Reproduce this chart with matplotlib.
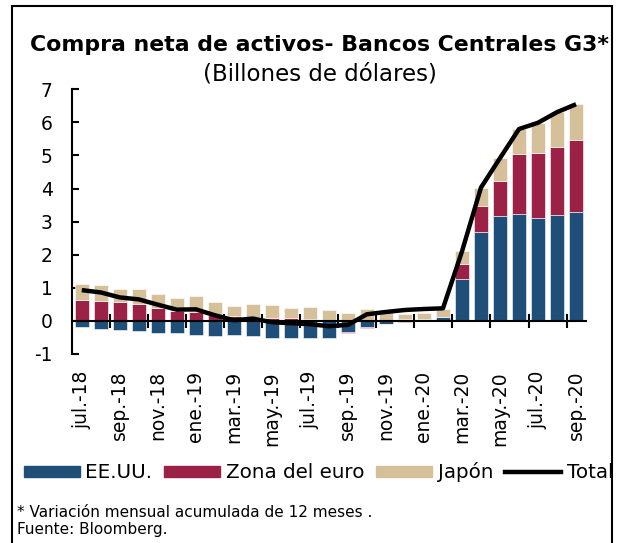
import numpy as np
import matplotlib
matplotlib.use("Agg")
import matplotlib.pyplot as plt
from matplotlib.patches import Patch, Rectangle
from matplotlib.lines import Line2D

plt.rcParams["axes.unicode_minus"] = False

# monthly data, jul-18 .. sep-20 (billones de dolares, 12m acumulado)
months = ["jul.-18", "ago.-18", "sep.-18", "oct.-18", "nov.-18", "dic.-18",
          "ene.-19", "feb.-19", "mar.-19", "abr.-19", "may.-19", "jun.-19",
          "jul.-19", "ago.-19", "sep.-19", "oct.-19", "nov.-19", "dic.-19",
          "ene.-20", "feb.-20", "mar.-20", "abr.-20", "may.-20", "jun.-20",
          "jul.-20", "ago.-20", "sep.-20"]
eeuu = [-0.19, -0.25, -0.27, -0.32, -0.37, -0.36, -0.42, -0.45, -0.44, -0.47,
        -0.53, -0.51, -0.53, -0.53, -0.33, -0.18, -0.08, 0.05, 0.07, 0.12,
        1.27, 2.69, 3.17, 3.23, 3.12, 3.20, 3.29]
zona_euro = [0.64, 0.60, 0.56, 0.52, 0.39, 0.29, 0.28, 0.18, 0.16, 0.13,
             0.09, 0.08, 0.05, 0.01, -0.05, -0.02, -0.01, -0.02, -0.01, 0.00,
             0.44, 0.77, 1.05, 1.81, 1.95, 2.06, 2.17]
japon = [0.47, 0.49, 0.39, 0.43, 0.42, 0.40, 0.47, 0.39, 0.29, 0.39,
         0.38, 0.31, 0.36, 0.33, 0.24, 0.35, 0.32, 0.17, 0.18, 0.25,
         0.39, 0.57, 0.70, 0.76, 0.92, 1.05, 1.09]
total = [0.93, 0.86, 0.71, 0.65, 0.49, 0.34, 0.35, 0.17, 0.02, 0.07,
         -0.04, -0.07, -0.10, -0.16, -0.12, 0.20, 0.27, 0.33, 0.36, 0.38,
         2.10, 4.03, 4.92, 5.80, 5.99, 6.31, 6.55]

c_us = "#1f4e79"
c_eu = "#9b2246"
c_jp = "#d5c09a"


def stack_bottoms(series):
    # positive values pile up from 0, negative ones pile down from 0
    pos = np.zeros(len(series[0]))
    neg = np.zeros(len(series[0]))
    out = []
    for s in series:
        s = np.asarray(s)
        b = np.where(s >= 0, pos, neg)
        out.append(b)
        pos = pos + np.where(s >= 0, s, 0)
        neg = neg + np.where(s < 0, s, 0)
    return out


def main():
    fig = plt.figure(figsize=(6.2, 5.43), dpi=100)
    ax = fig.add_axes([0.1166, 0.3481, 0.8278, 0.4874])

    x = np.arange(len(months))
    series = [eeuu, zona_euro, japon]
    colors = [c_us, c_eu, c_jp]
    bottoms = stack_bottoms(series)
    for s, b, c in zip(series, bottoms, colors):
        ax.bar(x, s, bottom=b, width=0.76, color=c, edgecolor="white",
               linewidth=0.4, zorder=2)
    ax.plot(x, total, color="black", lw=3.2, zorder=4, solid_capstyle="butt")

    ax.set_xlim(-0.5, len(months) - 0.5)
    ax.set_ylim(-1, 7)
    ax.set_yticks(range(-1, 8))

    for s in ["top", "right"]:
        ax.spines[s].set_visible(False)
    ax.spines["left"].set_linewidth(1.5)
    ax.spines["bottom"].set_position(("data", 0))
    ax.spines["bottom"].set_linewidth(1.5)
    ax.spines["bottom"].set_zorder(3)

    ax.set_xticks(x[::2])
    ax.set_xticklabels(months[::2], rotation=90, va="top", ha="center")
    ax.set_xticks(x[1:-1:2] + 0.5, minor=True)
    ax.tick_params(axis="x", which="major", length=0, pad=36, labelsize=13.5)
    ax.tick_params(axis="x", which="minor", direction="inout", length=10,
                   width=1.5)
    ax.tick_params(axis="y", direction="in", length=5, width=1.5,
                   labelsize=13.5, pad=14)

    fig.text(0.516, 0.917, "Compra neta de activos- Bancos Centrales G3*",
             ha="center", va="center", fontsize=15.8, fontweight="bold")
    fig.text(0.516, 0.864, "(Billones de dólares)", ha="center", va="center",
             fontsize=16.5)

    handles = [Patch(color=c_us), Patch(color=c_eu), Patch(color=c_jp),
               Line2D([0], [0], color="black", lw=3.2)]
    labels = ["EE.UU.", "Zona del euro", "Japón", "Total"]
    fig.legend(handles, labels, loc="center", bbox_to_anchor=(0.514, 0.13),
               ncol=4, frameon=False, fontsize=14.3, handlelength=2.8,
               handleheight=0.45, handletextpad=0.3, columnspacing=0.6,
               borderpad=0)

    fig.text(0.028, 0.056, "* Variación mensual acumulada de 12 meses .",
             ha="left", va="center", fontsize=11)
    fig.text(0.028, 0.025, "Fuente: Bloomberg.", ha="left", va="center",
             fontsize=11)

    # frame around the whole chart
    fig.patches.append(Rectangle((12 / 620, -0.05), 600 / 620, 1.05 - 6 / 543,
                                 transform=fig.transFigure, fill=False,
                                 edgecolor="black", lw=1.5, clip_on=False))

    fig.savefig("out.png", dpi=100)


if __name__ == "__main__":
    main()
